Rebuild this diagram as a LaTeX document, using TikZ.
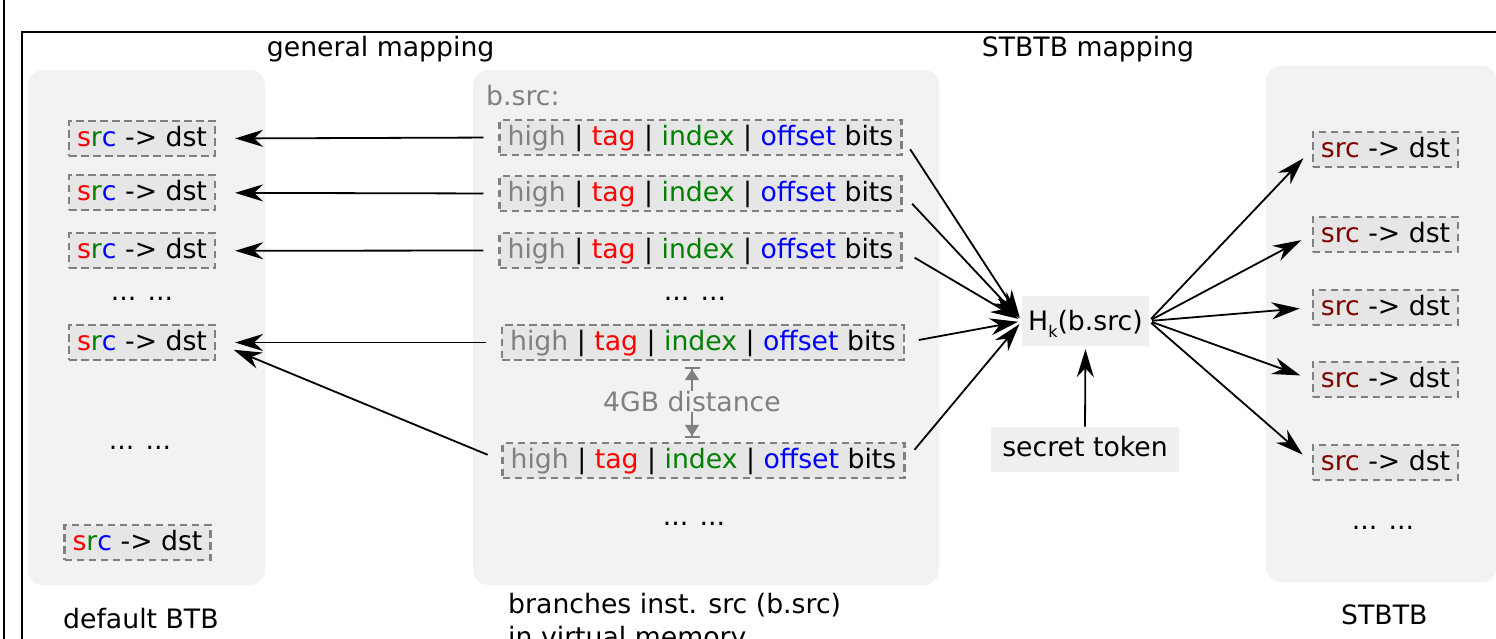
\documentclass[tikz,border=0pt]{standalone}
\usepackage{fontspec}
\setmainfont{DejaVu Sans}
\usetikzlibrary{arrows.meta,calc}

\definecolor{panel}{HTML}{F2F2F2}
\definecolor{cell}{HTML}{E6E6E6}
\definecolor{hashfill}{HTML}{EFEFEF}
\definecolor{frame}{HTML}{808080}
\definecolor{tagred}{HTML}{FF0000}
\definecolor{idxgreen}{HTML}{008000}
\definecolor{offblue}{HTML}{0000FF}
\definecolor{hashsrc}{HTML}{800000}

% address layout of a branch source
\newcommand\bsrcbits{{\color{frame}high} | {\color{tagred}tag} | {\color{idxgreen}index} | {\color{offblue}offset} bits}
% entry of the default BTB
\newcommand\btbentry{{\color{tagred}s}{\color{idxgreen}r}{\color{offblue}c} -> dst}
% entry of the STBTB
\newcommand\stbentry{{\color{hashsrc}src} -> dst}

\begin{document}
\begin{tikzpicture}[x=1pt,y=-1pt,
  every node/.style={font=\fontsize{26.7}{33}\selectfont, inner sep=0pt},
  panelbox/.style={fill=panel, rounded corners=15pt},
  cellbox/.style={draw=frame, fill=cell, line width=2.3pt,
    dash pattern=on 7.5pt off 4.5pt, text height=20pt, text depth=5pt,
    inner xsep=8pt, inner ysep=5pt, anchor=base},
  hashbox/.style={fill=hashfill, anchor=base},
  plaintext/.style={anchor=base west},
  ellip/.style={anchor=base},
  link/.style={-{Stealth[length=28pt,width=17pt,inset=9pt]}, line width=1.8pt},
  gaparrow/.style={{Bar[width=15pt]Triangle[length=11pt,width=14pt]}-{Triangle[length=11pt,width=14pt]Bar[width=15pt]},
    draw=frame, line width=2pt}
]
\useasboundingbox (0,0) rectangle (1496,638);
\clip (0,0) rectangle (1496,638);

% outer frames
\draw[line width=2pt] (3.5,-5) -- (3.5,650);
\draw[line width=2pt] (22,32) rectangle (1530,680);

% panels
\path[panelbox] (28,70) rectangle (265,585);
\path[panelbox] (473,70) rectangle (939,585);
\path[panelbox] (1266,66) rectangle (1497,582);

% titles (a multi-line node sits on the baseline of its last line)
\node[plaintext] (tgen) at (266.7,56.7) {general mapping};
\node[plaintext] (tstb) at (981.7,56.7) {STBTB mapping};
\node[plaintext] (cbtb) at (63,628) {default BTB};
\node[plaintext, align=left] (cmem) at (508,646) {branches inst. src (b.src)\\in virtual memory};
\node[plaintext] (cstb) at (1341,624) {STBTB};

% default BTB
\node[cellbox] (L1) at (142,146) {\btbentry};
\node[cellbox] (L2) at (142,200.3) {\btbentry};
\node[cellbox] (L3) at (142,258.3) {\btbentry};
\node[ellip] (Ld1) at (142,300) {... ...};
\node[cellbox] (L4) at (142,350) {\btbentry};
\node[ellip] (Ld2) at (140,449) {... ...};
\node[cellbox] (L5) at (137.5,550) {\btbentry};

% branch sources
\node[plaintext, text=frame] (bs) at (486,105) {b.src:};
\node[cellbox] (M1) at (700.5,145) {\bsrcbits};
\node[cellbox] (M2) at (700.5,201) {\bsrcbits};
\node[cellbox] (M3) at (700.5,258) {\bsrcbits};
\node[ellip] (Md1) at (695,300) {... ...};
\node[cellbox] (M4) at (703,350) {\bsrcbits};
\node[cellbox] (M5) at (703.5,468) {\bsrcbits};
\node[ellip] (Md2) at (694,525) {... ...};

% STBTB
\node[cellbox] (R1) at (1385.5,157) {\stbentry};
\node[cellbox] (R2) at (1385.5,242) {\stbentry};
\node[cellbox] (R3) at (1385.5,315) {\stbentry};
\node[cellbox] (R4) at (1385.5,387) {\stbentry};
\node[cellbox] (R5) at (1385.5,470) {\stbentry};
\node[ellip] (Rd) at (1383,529) {... ...};

% keyed hash and its token
\node[hashbox, text height=24pt, text depth=6pt, inner ysep=10pt, inner xsep=6pt] (H) at (1085.5,330)
  {H\raisebox{-7pt}{\fontsize{16}{16}\selectfont k}(b.src)};
\node[hashbox, text height=21pt, text depth=6pt, inner ysep=9pt, inner xsep=11pt] (S) at (1085,456.7) {secret token};

% general mapping
\foreach \i in {1,2,3,4}
  \draw[link, shorten <=15pt, shorten >=19pt] (M\i.west) -- (L\i.east);
\draw[link, shorten <=15pt, shorten >=19pt] (M5.west) -- (L4.east);

% STBTB mapping
\foreach \i in {1,...,5}
  \draw[link, shorten <=14pt, shorten >=4pt] (M\i.east) -- (H.west);
\foreach \i in {1,...,5}
  \draw[link, shorten <=3pt, shorten >=12pt] (H.east) -- (R\i.west);
\draw[link, shorten >=3pt] (S.north) -- (H.south);

% distance between two aliasing sources
\coordinate (gx) at (692,0);
\draw[gaparrow, shorten <=6pt, shorten >=4pt] (gx |- M4.south) --
  node[fill=panel, text=frame, inner xsep=2pt] (gap) {4GB distance} (gx |- M5.north);
\end{tikzpicture}
\end{document}
